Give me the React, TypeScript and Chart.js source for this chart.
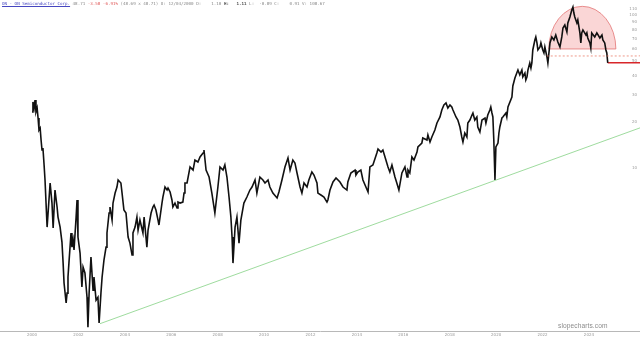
import React, { useEffect, useRef } from "react";
import { Chart, registerables } from "chart.js";

Chart.register(...registerables);

// ---- price history (decimal year, close) ----
const dates = [
  2000.00, 2000.04, 2000.09, 2000.13, 2000.17, 2000.22, 2000.26, 2000.30, 2000.35, 2000.39,
  2000.43, 2000.47, 2000.52, 2000.56, 2000.65, 2000.78, 2000.86, 2000.91, 2000.99, 2001.08,
  2001.12, 2001.21, 2001.29, 2001.34, 2001.38, 2001.47, 2001.51, 2001.55, 2001.59, 2001.68,
  2001.72, 2001.77, 2001.81, 2001.90, 2001.94, 2001.98, 2002.07, 2002.15, 2002.20, 2002.28,
  2002.37, 2002.41, 2002.46, 2002.54, 2002.63, 2002.67, 2002.76, 2002.84, 2002.89, 2002.97,
  2003.02, 2003.10, 2003.19, 2003.23, 2003.32, 2003.36, 2003.45, 2003.49, 2003.58, 2003.66,
  2003.71, 2003.83, 2003.88, 2003.96, 2004.05, 2004.14, 2004.22, 2004.31, 2004.35, 2004.44,
  2004.52, 2004.57, 2004.65, 2004.78, 2004.83, 2004.95, 2005.00, 2005.13, 2005.21, 2005.26,
  2005.34, 2005.43, 2005.47, 2005.60, 2005.64, 2005.73, 2005.82, 2005.86, 2005.95, 2006.03,
  2006.07, 2006.16, 2006.25, 2006.29, 2006.38, 2006.50, 2006.55, 2006.59, 2006.68, 2006.81,
  2006.94, 2007.02, 2007.15, 2007.24, 2007.37, 2007.41, 2007.50, 2007.63, 2007.75, 2007.88,
  2008.01, 2008.10, 2008.23, 2008.31, 2008.40, 2008.49, 2008.57, 2008.62, 2008.66, 2008.75,
  2008.83, 2008.92, 2009.00, 2009.13, 2009.26, 2009.39, 2009.48, 2009.61, 2009.69, 2009.82,
  2009.95, 2010.04, 2010.17, 2010.25, 2010.38, 2010.56, 2010.64, 2010.77, 2010.90, 2011.03,
  2011.12, 2011.24, 2011.33, 2011.42, 2011.55, 2011.63, 2011.72, 2011.85, 2011.93, 2012.06,
  2012.15, 2012.28, 2012.32, 2012.45, 2012.58, 2012.71, 2012.75, 2012.84, 2012.97, 2013.10,
  2013.27, 2013.40, 2013.57, 2013.61, 2013.74, 2013.92, 2013.96, 2014.04, 2014.17, 2014.26,
  2014.48, 2014.56, 2014.69, 2014.86, 2014.91, 2015.04, 2015.12, 2015.25, 2015.34, 2015.42,
  2015.51, 2015.64, 2015.72, 2015.81, 2015.94, 2016.07, 2016.16, 2016.20, 2016.28, 2016.37,
  2016.46, 2016.59, 2016.63, 2016.80, 2016.84, 2017.02, 2017.06, 2017.15, 2017.23, 2017.36,
  2017.45, 2017.58, 2017.66, 2017.75, 2017.84, 2017.92, 2018.01, 2018.09, 2018.14, 2018.27,
  2018.35, 2018.44, 2018.52, 2018.57, 2018.65, 2018.74, 2018.78, 2018.87, 2018.96, 2019.00,
  2019.08, 2019.17, 2019.21, 2019.30, 2019.39, 2019.52, 2019.56, 2019.64, 2019.73, 2019.77,
  2019.82, 2019.86, 2019.90, 2019.95, 2019.99, 2020.08, 2020.12, 2020.16, 2020.25, 2020.29,
  2020.42, 2020.46, 2020.51, 2020.68, 2020.72, 2020.81, 2020.89, 2020.94, 2021.02, 2021.11,
  2021.15, 2021.24, 2021.28, 2021.33, 2021.37, 2021.45, 2021.50, 2021.54, 2021.58, 2021.67,
  2021.71, 2021.76, 2021.80, 2021.89, 2021.93, 2022.01, 2022.06, 2022.10, 2022.19, 2022.23,
  2022.32, 2022.40, 2022.49, 2022.57, 2022.66, 2022.75, 2022.83, 2022.88, 2022.96, 2023.05,
  2023.09, 2023.18, 2023.26, 2023.31, 2023.35, 2023.39, 2023.48, 2023.52, 2023.61, 2023.65,
  2023.69, 2023.74, 2023.87, 2023.91, 2023.95, 2024.04, 2024.08, 2024.12, 2024.25, 2024.34,
  2024.47, 2024.56, 2024.60, 2024.68, 2024.73, 2024.77, 2024.81,
];

const closes = [
  23.24, 27.01, 24.68, 27.84, 23.24, 24.68, 21.23, 17.72, 18.26, 15.24,
  13.11, 13.51, 10.47, 8.35, 4.11, 7.98, 5.90, 4.05, 7.18, 5.56,
  4.78, 4.11, 3.28, 2.39, 1.77, 1.31, 1.52, 1.94, 2.39, 3.76,
  3.04, 3.38, 2.91, 4.78, 6.18, 3.54, 2.78, 1.67, 2.25, 2.06,
  1.43, 0.91, 1.52, 2.62, 1.59, 1.94, 1.37, 1.43, 0.97, 1.52,
  1.94, 2.50, 3.04, 3.76, 5.08, 5.56, 4.57, 5.90, 6.86, 7.51,
  8.35, 7.98, 6.86, 5.31, 5.08, 3.54, 3.23, 2.70, 3.76, 4.11,
  4.78, 3.93, 4.57, 3.76, 4.78, 3.04, 3.93, 5.08, 5.56, 5.73,
  5.31, 4.57, 4.24, 5.90, 6.46, 7.51, 7.18, 7.40, 6.97, 6.18,
  5.56, 5.90, 5.48, 5.99, 5.90, 5.99, 6.86, 7.98, 7.98, 10.16,
  9.70, 11.28, 10.95, 11.80, 12.53, 13.11, 9.70, 8.73, 6.86, 5.08,
  7.51, 10.16, 9.70, 10.47, 8.73, 6.46, 4.78, 3.54, 2.39, 4.11,
  4.78, 3.23, 4.57, 5.90, 6.46, 7.18, 7.51, 8.35, 6.86, 8.73,
  8.35, 7.98, 8.35, 7.51, 6.86, 6.37, 6.97, 8.35, 10.16, 11.63,
  9.70, 11.28, 10.79, 9.28, 7.51, 6.86, 7.98, 7.51, 8.35, 9.42,
  9.00, 7.98, 6.86, 6.66, 6.46, 5.99, 6.18, 7.18, 8.10, 8.60,
  8.10, 7.51, 7.18, 8.10, 9.28, 9.70, 9.00, 9.42, 9.70, 8.35,
  6.97, 10.16, 10.47, 12.53, 13.31, 12.72, 13.11, 11.28, 10.16, 9.42,
  10.47, 8.73, 7.98, 7.18, 9.28, 10.16, 8.73, 9.70, 9.28, 11.80,
  11.28, 12.72, 13.72, 14.57, 15.71, 15.24, 16.43, 14.79, 15.95, 17.72,
  19.69, 21.56, 23.95, 25.82, 26.61, 24.68, 25.82, 25.06, 23.95, 21.56,
  20.60, 18.54, 15.95, 14.79, 16.94, 15.95, 19.69, 20.60, 22.21, 22.89,
  20.60, 21.56, 18.54, 17.19, 20.60, 21.23, 19.69, 22.21, 23.95, 25.06,
  22.89, 21.56, 15.24, 8.35, 13.72, 14.57, 16.94, 18.54, 21.23, 21.56,
  22.89, 21.56, 25.06, 29.10, 34.40, 38.77, 41.80, 43.70, 40.60, 43.70,
  39.40, 41.80, 37.60, 39.40, 43.70, 48.60, 45.07, 48.60, 59.10, 68.70,
  71.90, 65.70, 59.10, 61.80, 65.70, 59.10, 56.50, 61.80, 53.20, 48.60,
  65.70, 71.90, 68.70, 74.10, 66.70, 61.80, 71.90, 82.30, 86.10, 77.50,
  88.80, 97.10, 107.90, 112.90, 103.10, 97.10, 88.80, 92.90, 76.40, 65.70,
  76.40, 79.90, 74.10, 76.40, 70.80, 65.70, 60.90, 76.40, 71.90, 76.40,
  70.80, 74.10, 68.70, 65.70, 59.10, 56.50, 48.71,
];

// ---- axes ----
const xTickYears = [2000, 2002, 2004, 2006, 2008, 2010, 2012, 2014, 2016, 2018, 2020, 2022, 2024];
const yTickValues = [10, 20, 30, 40, 50, 60, 70, 80, 90, 100, 110];
const xRange = [1998.62, 2026.2];
const yRange = [0.86, 125.4];

// ---- drawings ----
const trendDates = [2002.93, 2026.2];
const trendValues = [0.96, 18.3];
const supportDates = [2022.18, 2026.2];
const supportValues = [54, 54];
const lastDates = [2024.81, 2026.2];
const lastValues = [48.71, 48.71];
const domeDates = [2022.27, 2025.16];
const domeValues = [60, 114];

const domePlugin = {
  id: "dome",
  beforeDatasetsDraw(chart: any) {
    const { ctx, scales } = chart;
    const x1 = scales.x.getPixelForValue(domeDates[0]);
    const x2 = scales.x.getPixelForValue(domeDates[1]);
    const yb = scales.y.getPixelForValue(domeValues[0]);
    const yt = scales.y.getPixelForValue(domeValues[1]);
    ctx.save();
    ctx.beginPath();
    ctx.ellipse((x1 + x2) / 2, yb, (x2 - x1) / 2, yb - yt, 0, Math.PI, 2 * Math.PI);
    ctx.closePath();
    ctx.fillStyle = "rgba(240,120,120,0.30)";
    ctx.fill();
    ctx.strokeStyle = "rgba(226,110,110,0.95)";
    ctx.lineWidth = 0.8;
    ctx.stroke();
    ctx.restore();
  },
};

const toXY = (xs: number[], ys: number[]) => xs.map((x, i) => ({ x, y: ys[i] }));

export default function App() {
  const ref = useRef<HTMLCanvasElement>(null);

  useEffect(() => {
    document.body.style.margin = "0";
    if (!ref.current) return;
    const chart = new Chart(ref.current, {
      type: "line",
      data: {
        datasets: [
          {
            data: toXY(trendDates, trendValues),
            borderColor: "rgba(120,205,120,0.9)",
            borderWidth: 0.8,
            pointRadius: 0,
          },
          {
            data: toXY(supportDates, supportValues),
            borderColor: "rgba(232,120,100,0.95)",
            borderWidth: 0.8,
            borderDash: [2, 2],
            pointRadius: 0,
          },
          {
            data: toXY(dates, closes),
            borderColor: "#111111",
            borderWidth: 1.6,
            pointRadius: 0,
            tension: 0,
          },
          {
            data: toXY(lastDates, lastValues),
            borderColor: "#d8262a",
            borderWidth: 1.6,
            pointRadius: 0,
          },
        ],
      },
      options: {
        responsive: false,
        animation: false,
        devicePixelRatio: 1,
        layout: { padding: 0 },
        plugins: { legend: { display: false }, tooltip: { enabled: false }, title: { display: false } },
        scales: {
          x: {
            type: "linear",
            min: xRange[0],
            max: xRange[1],
            grid: { display: false, drawTicks: false },
            border: { display: true, color: "#b8b8b8", width: 1 },
            afterBuildTicks: (s: any) => {
              s.ticks = xTickYears.map((v) => ({ value: v }));
            },
            afterFit: (s: any) => {
              s.height = 10;
            },
            ticks: {
              autoSkip: false,
              maxRotation: 0,
              padding: 2,
              color: "#9a9a9a",
              font: { size: 4, family: "DejaVu Sans" },
              callback: (v: any) => String(v),
            },
          },
          y: {
            type: "logarithmic",
            position: "right",
            min: yRange[0],
            max: yRange[1],
            grid: { display: false, drawTicks: false },
            border: { display: false },
            afterBuildTicks: (s: any) => {
              s.ticks = yTickValues.map((v) => ({ value: v }));
            },
            afterFit: (s: any) => {
              s.width = 0;
            },
            ticks: {
              mirror: true,
              padding: -3,
              color: "#9a9a9a",
              font: { size: 4, family: "DejaVu Sans" },
              callback: (v: any) => String(v),
            },
          },
        },
      },
      plugins: [domePlugin],
    });
    return () => chart.destroy();
  }, []);

  return (
    <div style={{ position: "relative", width: 640, height: 341, overflow: "hidden", background: "#fff" }}>
      <canvas ref={ref} width={640} height={341} style={{ display: "block" }} />
      <div
        style={{
          position: "absolute",
          left: 2,
          top: 1,
          fontFamily: "'DejaVu Sans Mono', monospace",
          fontSize: 4.2,
          lineHeight: "5px",
          whiteSpace: "pre",
          color: "#8a8a8a",
        }}
      >
        <span style={{ color: "#4646c0", textDecoration: "underline" }}>ON - ON Semiconductor Corp.</span>
        <span> 48.71 </span>
        <span style={{ color: "#e05a5a" }}>-3.58 -6.91%</span>
        <span> (48.69 x 48.71) O: 12/04/2000 D:    1.10 </span>
        <span style={{ color: "#555", fontWeight: "bold" }}>H:   1.11</span>
        <span> L:  -0.89 C:    0.91 V: 108.67</span>
      </div>
      <div
        style={{
          position: "absolute",
          left: 558,
          top: 322,
          fontFamily: "'Liberation Sans', Arial, sans-serif",
          fontSize: 6.6,
          lineHeight: "8px",
          color: "#8c8c8c",
          letterSpacing: 0.1,
        }}
      >
        slopecharts.com
      </div>
    </div>
  );
}
